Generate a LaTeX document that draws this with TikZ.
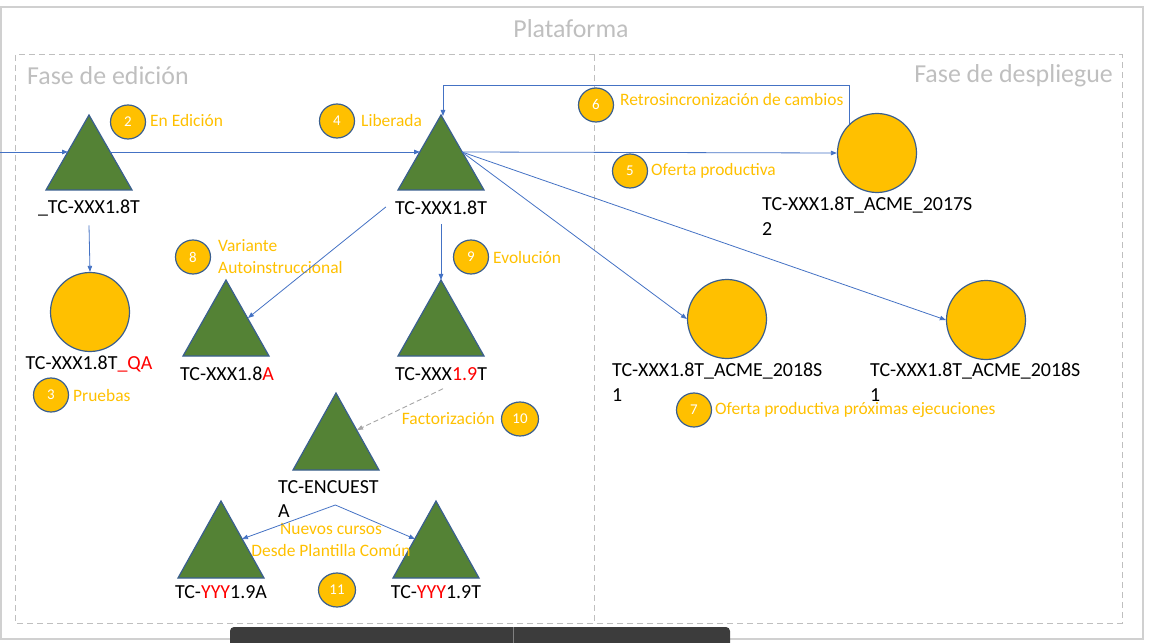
\documentclass[tikz,border=0pt]{standalone}
\usepackage{fontspec}
\setmainfont{Carlito}
\usetikzlibrary{arrows.meta,shapes.geometric,calc}
\definecolor{trifill}{HTML}{548235}
\definecolor{shapeline}{HTML}{3A5F8F}
\definecolor{gold}{HTML}{FFC000}
\definecolor{connblue}{HTML}{4472C4}
\definecolor{framegrey}{HTML}{D0D0D0}
\definecolor{headgrey}{HTML}{BFBFBF}
\definecolor{dashgrey}{HTML}{A6A6A6}
\definecolor{barcol}{HTML}{3C3C3C}
\definecolor{redtxt}{HTML}{FF0000}
\tikzset{
 tri/.style={fill=trifill, draw=shapeline, line width=1.2bp, line join=miter},
 bigc/.style={ellipse, fill=gold, draw=shapeline, line width=1.2bp, minimum width=79bp, minimum height=79bp, inner sep=0},
 numc/.style={ellipse, fill=gold, draw=shapeline, line width=1.2bp, minimum width=35bp, minimum height=34bp, inner sep=0, text=white, font=\fontsize{15}{17}\selectfont},
 lbl/.style={font=\fontsize{17.5}{22}\selectfont, text=gold, inner sep=0, anchor=west, align=left},
 blk/.style={font=\fontsize{20}{24.5}\selectfont, text=black, inner sep=0},
 hdr/.style={font=\fontsize{26}{30}\selectfont, text=headgrey, inner sep=0},
 arr/.style={draw=connblue, line width=0.8bp, -{Triangle[length=6bp,width=4.5bp]}},
 dasharr/.style={draw=dashgrey, line width=0.9bp, dash pattern=on 5bp off 3bp, -{Triangle[length=6bp,width=4.5bp]}},
}
\newcommand\greentri[4]{\draw[tri] (#2,#3) coordinate (#1) -- ++(43,#4) -- ++(-86,0) -- cycle;}
\begin{document}
\begin{tikzpicture}[x=1bp,y=-1bp]
\useasboundingbox (0,0) rectangle (1149,643);
% frames
\draw[framegrey, line width=1.2bp] (1,7) rectangle (1143,639);
\draw[headgrey, line width=1bp, dash pattern=on 6bp off 4bp] (15,55) rectangle (1122,623);
\draw[headgrey, line width=1bp, dash pattern=on 6bp off 4bp] (594,55) -- (594,623);
% headers
\node[hdr] (plat) at (571,29) {Plataforma};
\node[hdr, anchor=west] (fed) at (27,76) {Fase de edición};
\node[hdr, anchor=east] (fdes) at (1113,76) {Fase de despliegue};
% triangles
\greentri{t1}{89}{115}{75}
\greentri{t2}{441}{115}{75}
\greentri{t8}{226}{280}{76}
\greentri{t9}{441}{280}{76}
\greentri{te}{336}{393}{77}
\greentri{ty1}{221}{501}{77}
\greentri{ty2}{436}{501}{77}
% big circles
\node[bigc] (cqa) at (90,312) {};
\node[bigc] (c17) at (877,153) {};
\node[bigc] (c18a) at (727,319) {};
\node[bigc] (c18b) at (986,320) {};
% black labels
\node[blk] (l1) at (89,208) {\_TC-XXX1.8T};
\node[blk] (l2) at (441,208) {TC-XXX1.8T};
\node[blk] (lqa) at (89,364) {TC-XXX1.8T\textcolor{redtxt}{\_QA}};
\node[blk] (l8) at (227,374) {TC-XXX1.8\textcolor{redtxt}{A}};
\node[blk] (l9) at (441,374) {TC-XXX\textcolor{redtxt}{1.9}T};
\node[blk, anchor=north west, align=left] (l17) at (762,197) {TC-XXX1.8T\_ACME\_2017S\\2};
\node[blk, anchor=north west, align=left] (l18a) at (612,363) {TC-XXX1.8T\_ACME\_2018S\\1};
\node[blk, anchor=north west, align=left] (l18b) at (870,363) {TC-XXX1.8T\_ACME\_2018S\\1};
\node[blk, anchor=north west, align=left] (le) at (278,480) {TC-ENCUEST\\A};
\node[blk] (ly1) at (221,592) {TC-\textcolor{redtxt}{YYY}1.9A};
\node[blk] (ly2) at (436,592) {TC-\textcolor{redtxt}{YYY}1.9T};
% numbered circles and orange labels
\node[numc] (n2) at (128,122) {2};
\node[lbl] (tn2) at (150,121) {En Edición};
\node[numc] (n4) at (337,121) {4};
\node[lbl] (tn4) at (361,121) {Liberada};
\node[numc] (n6) at (596,105) {6};
\node[lbl] (tn6) at (620,100) {Retrosincronización de cambios};
\node[numc] (n5) at (630,171) {5};
\node[lbl] (tn5) at (651,171) {Oferta productiva};
\node[numc] (n8) at (193,257) {8};
\node[lbl] (tn8) at (218,257) {Variante\\Autoinstruccional};
\node[numc] (n9) at (471,257) {9};
\node[lbl] (tn9) at (493,258) {Evolución};
\node[numc] (n3) at (51,395) {3};
\node[lbl] (tn3) at (73,396) {Pruebas};
\node[numc, minimum width=37bp] (n10) at (520,419) {10};
\node[lbl, anchor=east] (tn10) at (495,419) {Factorización};
\node[numc] (n7) at (694,410) {7};
\node[lbl] (tn7) at (715,410) {Oferta productiva próximas ejecuciones};
\node[numc, minimum width=37bp] (n11) at (337,590) {11};
\node[lbl, anchor=center, align=center] (tn11) at (331,540) {Nuevos cursos\\Desde Plantilla Común};
% connectors
\coordinate (src) at (0,152);
\draw[arr] (src) -- ($(t1)+(-21,37)$);
\draw[arr] ($(t1)+(21,37)$) -- ($(t2)+(-21,37)$);
\draw[arr] ($(t2)+(21,37)$) -- (c17.west);
\draw[arr] (c17.134) |- ($(t2)+(2,-30)$) -- ($(t2)+(2,1)$);
\draw[arr] ($(t2)+(21,37)$) -- (c18a.west);
\draw[arr] ($(t2)+(21,37)$) -- (c18b.west);
\draw[arr] ($(l2.west)+(-9,-1)$) -- ($(t8)+(22,38)$);
\draw[arr] ($(l2.south)+(0,9)$) -- (t9);
\draw[arr] ($(l1.south)+(0,9)$) -- (cqa.north);
\draw[dasharr] ($(l9.south)+(2,8)$) -- ($(te)+(21,37)$);
\draw[arr] ($(le.north)+(7,25)$) -- ($(ty1)+(21,38)$);
\draw[arr] ($(le.north)+(7,25)$) -- ($(ty2)+(-21,38)$);
% bottom toolbar
\fill[barcol, rounded corners=4bp] (230,655) -- (230,627) -- (730,627) -- (730,655) -- cycle;
\draw[gray, line width=1bp] (513,627) -- (513,643);
\end{tikzpicture}
\end{document}
